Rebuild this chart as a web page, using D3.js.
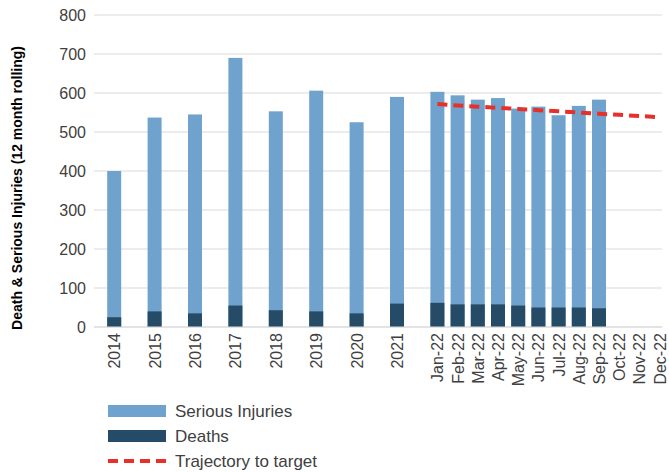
<!DOCTYPE html>
<html><head><meta charset="utf-8">
<script src="https://cdn.jsdelivr.net/npm/d3@7"></script>
<style>body{margin:0;background:#fff}text{font-family:"Liberation Sans",Arial,sans-serif}</style>
</head><body><div id="wrapper"></div>
<script>
const categories = ["2014","2015","2016","2017","2018","2019","2020","2021","Jan-22","Feb-22","Mar-22","Apr-22","May-22","Jun-22","Jul-22","Aug-22","Sep-22","Oct-22","Nov-22","Dec-22"]
const seriousInjuries = [400,537,545,690,553,606,525,590,603,594,583,587,560,565,543,567,583,null,null,null]
const deaths = [25,40,35,55,43,40,35,60,62,58,58,58,55,50,50,50,48,null,null,null]
const trajectory = [null,null,null,null,null,null,null,null,572,568,565,562,559,556,553,550,547,544,541,538]
const yTicks = [0,100,200,300,400,500,600,700,800]

// slot positions: yearly bars use 2 slots, monthly 1 slot
const slot = i => i < 8 ? 2 * i + 1 : 17 + (i - 8)

const svg = d3.select("#wrapper").append("svg").attr("width", 669).attr("height", 473)
const x = d3.scaleLinear().domain([0, 29]).range([94, 94 + 29 * 20.2])
const y = d3.scaleLinear().domain([0, 800]).range([327, 15])

// grid
svg.append("g").selectAll("line").data(yTicks).join("line")
    .attr("x1", 94).attr("x2", 662)
    .attr("y1", d => y(d)).attr("y2", d => y(d))
    .attr("stroke", "#d9d9d9").attr("stroke-width", 1)

const yAxis = svg.append("g").attr("transform", "translate(94,0)")
    .call(d3.axisLeft(y).tickValues(yTicks).tickSize(0).tickPadding(8))
yAxis.select(".domain").remove()
yAxis.selectAll("text").attr("font-size", 16).attr("fill", "#404040").style("font-family", "Liberation Sans, Arial")

const idx = d3.range(categories.length)
const bw = 14
svg.append("g").selectAll("rect").data(idx.filter(i => seriousInjuries[i] != null)).join("rect")
    .attr("x", i => x(slot(i)) - bw / 2).attr("width", bw)
    .attr("y", i => y(seriousInjuries[i])).attr("height", i => y(0) - y(seriousInjuries[i]))
    .attr("fill", "#6fa3cd")
svg.append("g").selectAll("rect").data(idx.filter(i => deaths[i] != null)).join("rect")
    .attr("x", i => x(slot(i)) - bw / 2).attr("width", bw)
    .attr("y", i => y(deaths[i])).attr("height", i => y(0) - y(deaths[i]))
    .attr("fill", "#254b66")

const line = d3.line().defined(i => trajectory[i] != null)
    .x(i => x(slot(i))).y(i => y(trajectory[i]))
svg.append("path").datum(idx).attr("d", line).attr("fill", "none")
    .attr("stroke", "#e8302a").attr("stroke-width", 4).attr("stroke-dasharray", "10,6")

svg.append("line").attr("x1", 94).attr("x2", 662).attr("y1", y(0)).attr("y2", y(0)).attr("stroke", "#d9d9d9")

svg.append("g").selectAll("text").data(idx).join("text")
    .attr("transform", i => `translate(${x(slot(i)) + 6},333) rotate(-90)`)
    .attr("text-anchor", "end").attr("font-size", 16).attr("fill", "#404040")
    .text(i => categories[i])

svg.append("text").attr("transform", "translate(22,188) rotate(-90)")
    .attr("text-anchor", "middle").attr("font-size", 14).attr("font-weight", "bold")
    .text("Death & Serious Injuries (12 month rolling)")

// legend
const legend = [
    {label: "Serious Injuries", color: "#6fa3cd", type: "rect"},
    {label: "Deaths", color: "#254b66", type: "rect"},
    {label: "Trajectory to target", color: "#e8302a", type: "line"}
]
const lg = svg.append("g").selectAll("g").data(legend).join("g")
    .attr("transform", (d, i) => `translate(108,${411 + i * 25})`)
lg.filter(d => d.type == "rect").append("rect").attr("x", 0).attr("y", -6).attr("width", 58).attr("height", 12).attr("fill", d => d.color)
lg.filter(d => d.type == "line").append("line").attr("x1", 0).attr("x2", 58).attr("y1", 0).attr("y2", 0)
    .attr("stroke", d => d.color).attr("stroke-width", 4).attr("stroke-dasharray", "10,6")
lg.append("text").attr("x", 67).attr("y", 6).attr("font-size", 17).attr("fill", "#404040").text(d => d.label)
</script></body></html>
